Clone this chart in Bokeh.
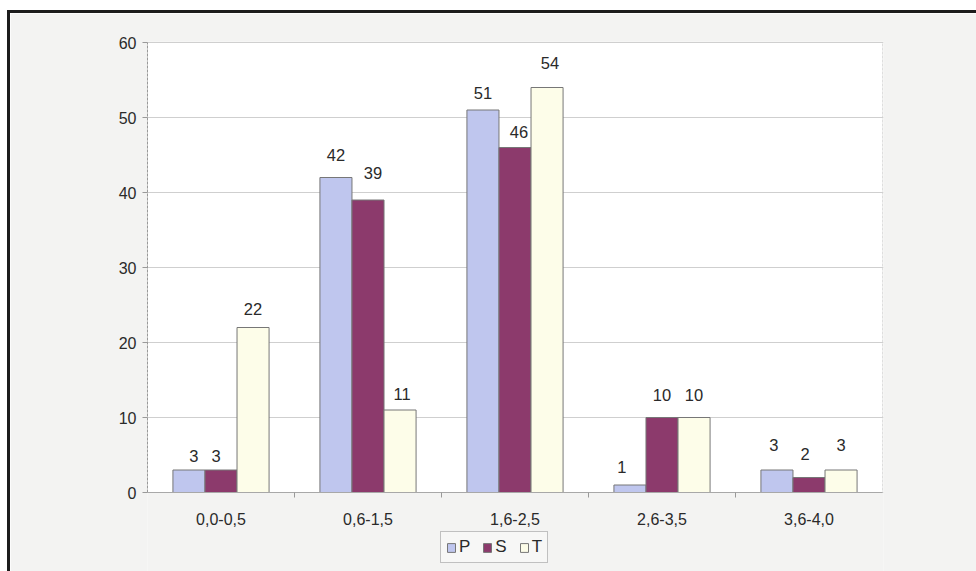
from bokeh.plotting import figure
from bokeh.models import (ColumnDataSource, FixedTicker, Legend, LegendItem,
                          Range1d, BoxAnnotation)
from bokeh.embed import file_html
from bokeh.resources import INLINE
from bokeh.core.properties import value

# Class intervals and counts per series
categories = ["0,0-0,5", "0,6-1,5", "1,6-2,5", "2,6-3,5", "3,6-4,0"]
series_names = ["P", "S", "T"]
p_values = [3, 42, 51, 1, 3]
s_values = [3, 39, 46, 10, 2]
t_values = [22, 11, 54, 10, 3]
y_ticks = [0, 10, 20, 30, 40, 50, 60]

# Styling
FONT = "Liberation Sans"
TEXT = "#2a2a2a"
BG = "#f3f3f2"
colors = ["#bfc6ee", "#8c3a6c", "#fdfde9"]
BAR_W = 0.218
shifts = [-BAR_W, 0.0, BAR_W]
# label nudges in pixels (dx, gap above bar top)
label_dx = [[5, 0, 0, -8, -3], [-5, 5, 4, 0, -4], [0, 2, 3, 0, 0]]
label_gap = [[8, 17, 11, 12, 19], [8, 21, 10, 17, 18], [13, 10, 19, 17, 19]]
GAP_FIX = 6

# The frame reaches down to the canvas bottom so the legend can sit under
# the category axis; the value axis spans 0..60 at 7.5 px per unit and each
# category is 147 px wide.  One spare pixel on the right/top keeps the plot
# area border fully visible.
PX_PER_UNIT = 7.5
PX_PER_CAT = 147
BELOW_PX = 79
p = figure(frame_width=736, frame_height=451 + BELOW_PX, output_backend="svg",
           toolbar_location=None,
           x_range=Range1d(0, len(categories) + 1 / PX_PER_CAT),
           y_range=Range1d(-BELOW_PX / PX_PER_UNIT, 60 + 1 / PX_PER_UNIT),
           min_border_left=137, min_border_right=93, min_border_top=28,
           min_border_bottom=0)
p.margin = (10, 0, 0, 7)
p.styles = {"border-left": "3px solid #1c1c1c", "border-top": "3px solid #1c1c1c"}
p.background_fill_color = BG
p.border_fill_color = BG
p.outline_line_color = None

# plot area: white panel with a light dashed border
p.add_layout(BoxAnnotation(left=0, right=len(categories), bottom=0, top=60,
                           fill_color="#ffffff", fill_alpha=1,
                           line_color="#a0a0a0", line_dash="3 1", line_width=1,
                           level="image"))

renderers = []
for k, vals in enumerate([p_values, s_values, t_values]):
    xs = [i + 0.5 + shifts[k] for i in range(len(categories))]
    src = ColumnDataSource(dict(x=xs, top=vals,
                                lab=[str(v) for v in vals],
                                dx=label_dx[k],
                                dy=[-(g + GAP_FIX) for g in label_gap[k]]))
    r = p.vbar(x="x", top="top", width=BAR_W, source=src,
               fill_color=colors[k], line_color="#777777", line_width=1)
    renderers.append(r)
    p.text(x="x", y="top", text="lab", source=src, x_offset="dx", y_offset="dy",
           text_align="center", text_baseline="alphabetic",
           text_font=value(FONT), text_font_size="16.5px", text_color=TEXT)

# Category axis drawn at value 0
p.xaxis.fixed_location = 0
p.xaxis.bounds = (0, len(categories))
p.xaxis.ticker = FixedTicker(ticks=[i + 0.5 for i in range(len(categories))],
                             minor_ticks=list(range(1, len(categories))))
p.xaxis.major_label_overrides = {i + 0.5: c for i, c in enumerate(categories)}
p.xaxis.major_tick_line_color = None
p.xaxis.minor_tick_in = 0
p.xaxis.minor_tick_out = 5
p.xaxis.minor_tick_line_color = "#999999"
p.xaxis.axis_line_color = "#a8a8a8"
p.xaxis.major_label_standoff = 14

p.yaxis.ticker = FixedTicker(ticks=y_ticks)
p.yaxis.bounds = (0, 60)
p.yaxis.minor_tick_line_color = None
p.yaxis.major_tick_in = 0
p.yaxis.major_tick_out = 5
p.yaxis.major_tick_line_color = "#999999"
p.yaxis.axis_line_color = "#999999"
p.yaxis.axis_line_dash = "3 1"
p.yaxis.major_label_standoff = 6

for ax in (p.xaxis, p.yaxis):
    ax.major_label_text_font = FONT
    ax.major_label_text_font_size = "16px"
    ax.major_label_text_color = TEXT

p.xgrid.grid_line_color = None
p.ygrid.ticker = FixedTicker(ticks=y_ticks)
p.ygrid.bounds = (0, len(categories))
p.ygrid.grid_line_color = "#cfcfcf"

legend = Legend(items=[LegendItem(label=n, renderers=[r])
                       for n, r in zip(series_names, renderers)],
                orientation="horizontal", location=(293, 8))
legend.label_text_font = FONT
legend.label_text_font_size = "17px"
legend.label_text_color = TEXT
legend.glyph_width = 10
legend.glyph_height = 11
legend.label_standoff = 3
legend.label_width = 0
legend.spacing = 12
legend.padding = 5
legend.margin = 0
legend.border_line_color = "#8a8a8a"
legend.background_fill_color = "#f7f7f6"
legend.label_height = 16
p.add_layout(legend)

open("out.html", "w").write(file_html(p, INLINE))
